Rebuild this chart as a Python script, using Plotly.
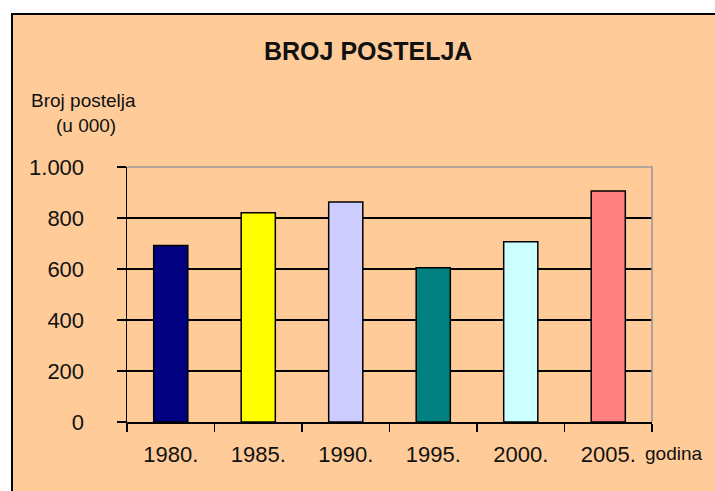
import plotly.graph_objects as go

years = ["1980.", "1985.", "1990.", "1995.", "2000.", "2005."]
beds = [692, 821, 863, 605, 707, 906]
bar_colors = ["#000080", "#FFFF00", "#CCCCFF", "#008080", "#CCFFFF", "#FF8080"]
y_tickvals = [0, 200, 400, 600, 800, 1000]
y_ticktext = ["0", "200", "400", "600", "800", "1.000"]

W, H = 715, 491
L, R, T, B = 127, 63, 167, 69
PW, PH = W - L - R, H - T - B

def px(x):
    return (x - L) / PW

def py(y):
    return (H - B - y) / PH

FONT = "Liberation Sans, Arial, sans-serif"

fig = go.Figure(go.Bar(
    x=years, y=beds,
    marker=dict(color=bar_colors, line=dict(color="black", width=1.5)),
))

fig.update_layout(
    width=W, height=H,
    margin=dict(l=L, r=R, t=T, b=B, pad=0),
    paper_bgcolor="white",
    plot_bgcolor="#FFCC99",
    bargap=0.61,
    showlegend=False,
    font=dict(family=FONT, color="black"),
    xaxis=dict(
        type="category",
        showline=True, linecolor="black", linewidth=1.5,
        ticks="outside", tickson="boundaries", ticklen=8, tickcolor="black", tickwidth=1.5,
        showgrid=False,
        tickfont=dict(size=22, family=FONT, color="#111"),
        ticklabelstandoff=12,
        fixedrange=True,
    ),
    yaxis=dict(
        range=[0, 1000],
        tickvals=y_tickvals, ticktext=y_ticktext,
        showline=True, linecolor="black", linewidth=1.5,
        ticks="outside", ticklen=9, tickcolor="black", tickwidth=1.5,
        showgrid=True, gridcolor="black", gridwidth=1.6,
        zeroline=False,
        tickfont=dict(size=22, family=FONT, color="#111"),
        ticklabelstandoff=28,
        fixedrange=True,
    ),
    shapes=[
        dict(type="rect", xref="paper", yref="paper", layer="below",
             x0=px(12), x1=px(W + 5), y0=py(H + 5), y1=py(14),
             fillcolor="#FFCC99", line=dict(color="black", width=2)),
        dict(type="path", xref="paper", yref="paper", layer="above",
             path="M 0 1 L 1 1 L 1 0",
             line=dict(color="#999999", width=1.6)),
    ],
    annotations=[
        dict(text="<b>BROJ POSTELJA</b>", xref="paper", yref="paper",
             x=px(368), y=py(51), showarrow=False,
             xanchor="center", yanchor="middle",
             font=dict(size=25, family=FONT, color="#111")),
        dict(text="Broj postelja", xref="paper", yref="paper",
             x=px(83), y=py(100), showarrow=False,
             xanchor="center", yanchor="middle",
             font=dict(size=19, family=FONT, color="#111")),
        dict(text="(u 000)", xref="paper", yref="paper",
             x=px(86), y=py(126), showarrow=False,
             xanchor="center", yanchor="middle",
             font=dict(size=19, family=FONT, color="#111")),
        dict(text="godina", xref="paper", yref="paper",
             x=px(673), y=py(453), showarrow=False,
             xanchor="center", yanchor="middle",
             font=dict(size=19, family=FONT, color="#111")),
    ],
)

fig.write_html("out.html", config={"displayModeBar": False, "staticPlot": True})

with open("out.html", "r", encoding="utf-8") as f:
    html = f.read()
html = html.replace("<head>", "<head><style>html,body{margin:0;padding:0;overflow:hidden;}</style>", 1)
with open("out.html", "w", encoding="utf-8") as f:
    f.write(html)
